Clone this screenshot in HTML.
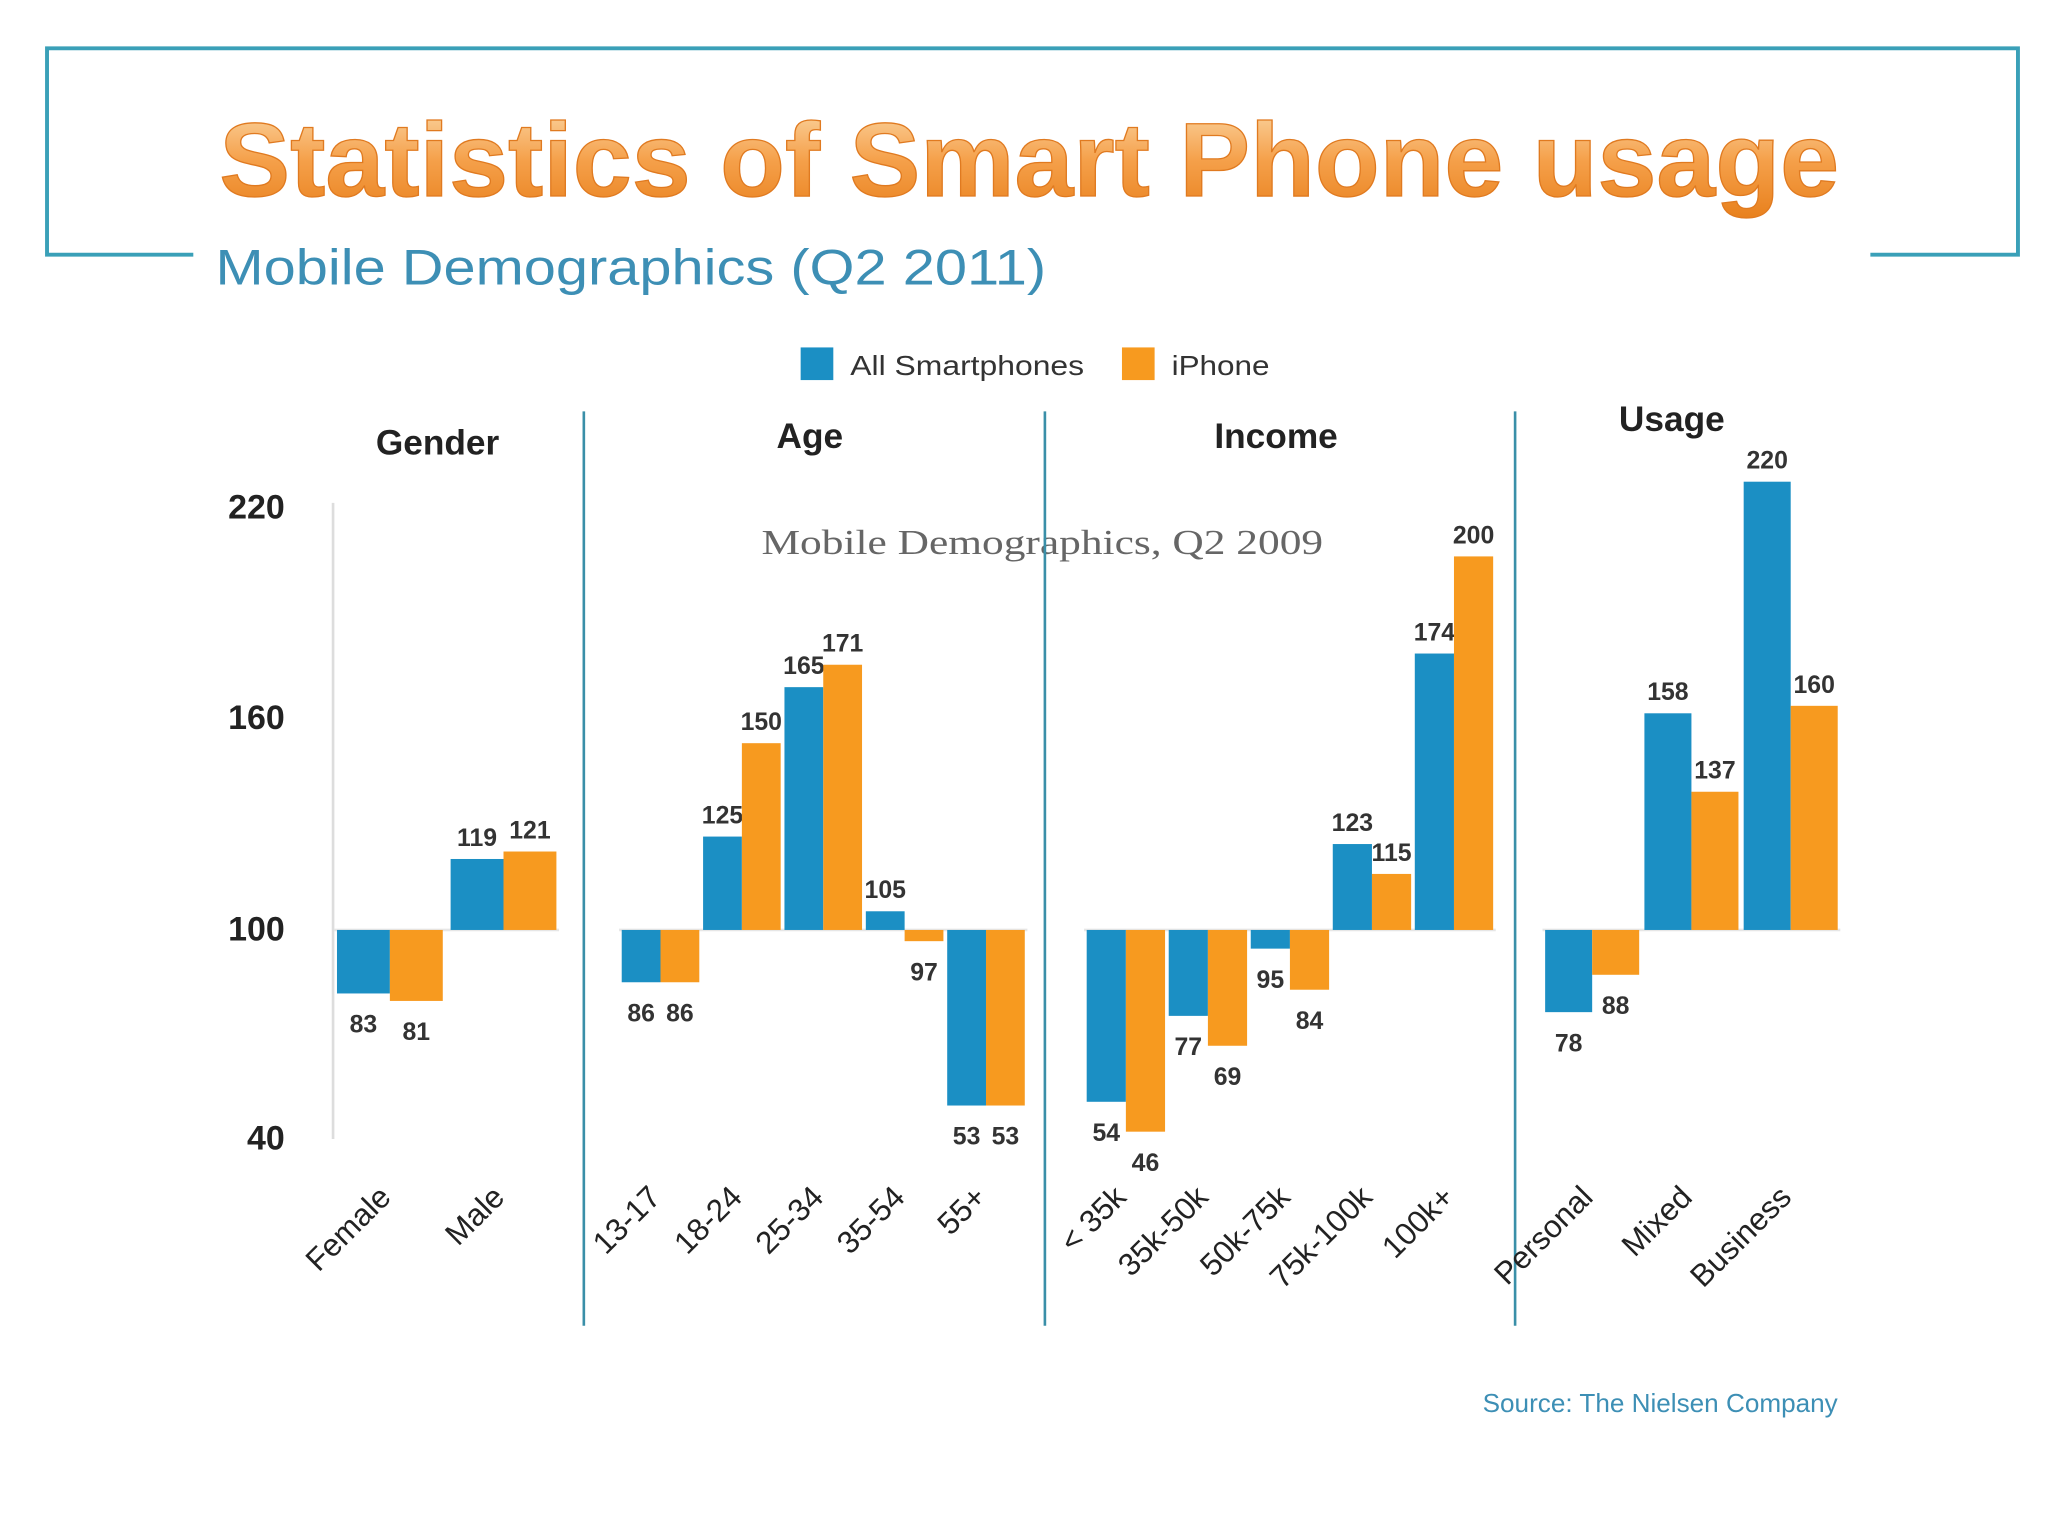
<!DOCTYPE html>
<html><head><meta charset="utf-8"><style>
html,body{margin:0;padding:0;background:#fff;}
#wrap{width:2048px;height:1536px;overflow:hidden;}
svg{display:block;}
text{font-family:"Liberation Sans",Arial,sans-serif;}
</style></head><body>
<div id="wrap">
<svg id="chart" width="2048" height="1536" viewBox="0 0 1568 1176">
<defs>
<linearGradient id="tg" x1="0" y1="0" x2="0" y2="1">
<stop offset="0" stop-color="#fbd9a8"/><stop offset="0.5" stop-color="#f5a04a"/><stop offset="1" stop-color="#e8801c"/>
</linearGradient>
</defs>
<path d="M148,195 H36 V37 H1545 V195 H1432" fill="none" stroke="#3aa0b8" stroke-width="3"/>
<text x="168" y="150" textLength="1240" lengthAdjust="spacingAndGlyphs" font-size="80" font-weight="bold" fill="url(#tg)" stroke="#e07a20" stroke-width="1">Statistics of Smart Phone usage</text>
<text x="165" y="218" textLength="636" lengthAdjust="spacingAndGlyphs" font-size="38" fill="#3d8fb5">Mobile Demographics (Q2 2011)</text>
<text x="583" y="424" textLength="430" lengthAdjust="spacingAndGlyphs" font-size="27" fill="#666" style="font-family:'Liberation Serif',serif">Mobile Demographics, Q2 2009</text>
<rect x="613" y="266" width="25" height="25" fill="#1b8fc4"/>
<text x="651" y="287" textLength="179" lengthAdjust="spacingAndGlyphs" font-size="21" fill="#333">All Smartphones</text>
<rect x="859" y="266" width="25" height="25" fill="#f79a1f"/>
<text x="897" y="287" textLength="75" lengthAdjust="spacingAndGlyphs" font-size="21" fill="#333">iPhone</text>
<line x1="255" y1="385" x2="255" y2="872" stroke="#ddd" stroke-width="2"/>
<g id="ticks"></g>
<line x1="447" y1="315" x2="447" y2="1015" stroke="#3a8fa8" stroke-width="2"/>
<line x1="800" y1="315" x2="800" y2="1015" stroke="#3a8fa8" stroke-width="2"/>
<line x1="1160" y1="315" x2="1160" y2="1015" stroke="#3a8fa8" stroke-width="2"/>
<g id="bars"></g>
<text x="1407" y="1081" text-anchor="end" font-size="20" fill="#3d8fb5">Source: The Nielsen Company</text>
</svg>
</div>
<script>
const tickValues=[220,160,100,40];
const tickY=[387,548,710,870];
const genderCats=["Female","Male"];
const genderAll=[83,119];
const genderIphone=[81,121];
const ageCats=["13-17","18-24","25-34","35-54","55+"];
const ageAll=[86,125,165,105,53];
const ageIphone=[86,150,171,97,53];
const incomeCats=["< 35k","35k-50k","50k-75k","75k-100k","100k+"];
const incomeAll=[54,77,95,123,174];
const incomeIphone=[46,69,84,115,200];
const usageCats=["Personal","Mixed","Business"];
const usageAll=[78,158,220];
const usageIphone=[88,137,160];

const NS="http://www.w3.org/2000/svg";
const barsG=document.getElementById('bars');
const ticksG=document.getElementById('ticks');
function yScale(v){return 712-(v-100)*2.86;}
function mk(tag,attrs,parent){const e=document.createElementNS(NS,tag);for(const k in attrs)e.setAttribute(k,attrs[k]);parent.appendChild(e);return e;}

tickValues.forEach((v,i)=>{
  const t=mk('text',{x:218,y:tickY[i]+10,'text-anchor':'end','font-size':26,'font-weight':'bold',fill:'#222'},ticksG);
  t.textContent=v;
  
  
});

const groups=[
 {cats:genderCats,all:genderAll,iph:genderIphone,x0:258,step:87,w:40.5,title:"Gender",tx:335,ty:348},
 {cats:ageCats,all:ageAll,iph:ageIphone,x0:476,step:62.3,w:29.7,title:"Age",tx:620,ty:343},
 {cats:incomeCats,all:incomeAll,iph:incomeIphone,x0:832,step:62.8,w:30,title:"Income",tx:977,ty:343},
 {cats:usageCats,all:usageAll,iph:usageIphone,x0:1183,step:76,w:36,title:"Usage",tx:1280,ty:330}
];
groups.forEach((g)=>{
  const tt=mk('text',{x:g.tx,y:g.ty,'text-anchor':'middle','font-size':27,'font-weight':'bold',fill:'#222'},barsG);
  tt.textContent=g.title;
  
  
  const x1=g.x0, x2=g.x0+g.step*(g.cats.length-1)+2*g.w;
  const bl=mk('line',{x1:x1-2,x2:x2+2,y1:yScale(100),y2:yScale(100),stroke:'#e6e6e6','stroke-width':2},barsG);
  
  
  g.cats.forEach((c,i)=>{
    [[g.all[i],'#1b8fc4','all'],[g.iph[i],'#f79a1f','iphone']].forEach((s,si)=>{
      const v=s[0];
      const x=g.x0+i*g.step+si*g.w;
      const y0=yScale(100),y1=yScale(v);
      const r=mk('rect',{x:x,y:Math.min(y0,y1),width:g.w,height:Math.max(1.5,Math.abs(y1-y0)),fill:s[1]},barsG);
      
      
      const ly=v>=100?y1-10:y1+30;
      const lb=mk('text',{x:x+g.w/2,y:ly,'text-anchor':'middle','font-size':19,'font-weight':'bold',fill:'#333'},barsG);
      lb.textContent=v;
      
      
    });
    const cx=g.x0+i*g.step+g.w*1.05, cy=918;
    const ct=mk('text',{x:cx,y:cy,'text-anchor':'end','font-size':24,fill:'#222',transform:'rotate(-45 '+cx+' '+cy+')'},barsG);
    ct.textContent=c;
    
    
  });
});
</script>
</body></html>
